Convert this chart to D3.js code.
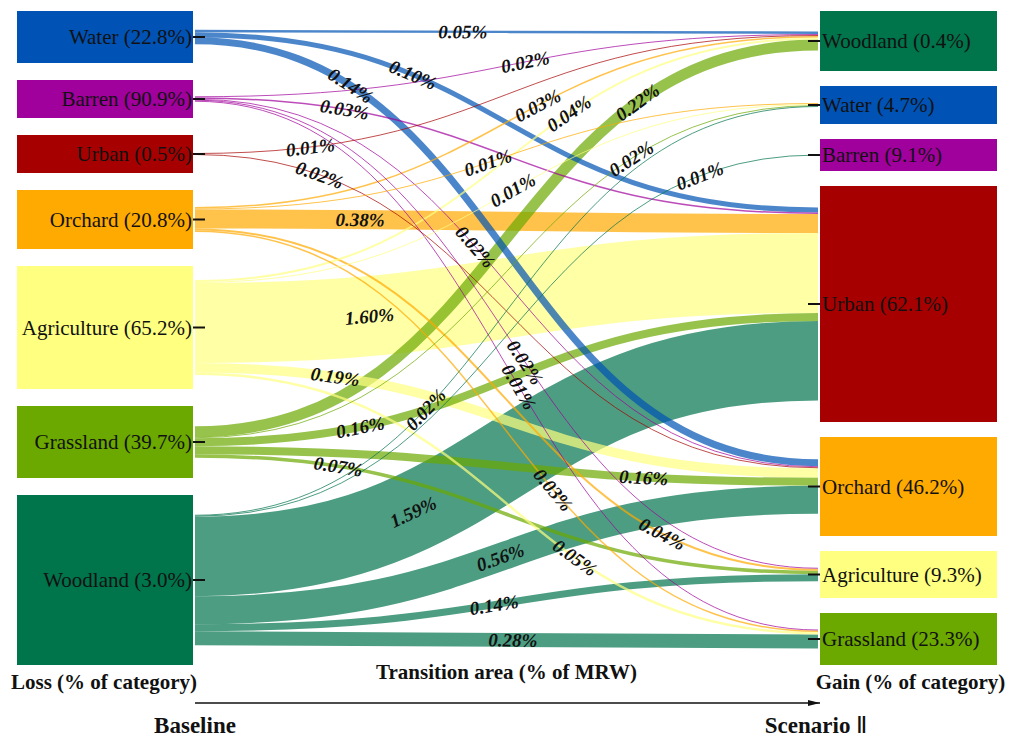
<!DOCTYPE html>
<html>
<head>
<meta charset="utf-8">
<script src="https://cdn.jsdelivr.net/npm/d3@7"></script>
<style>
  body { margin: 0; background: #fff; }
  svg { display: block; }
  text { font-family: "Liberation Serif", "Times New Roman", "Noto Serif", serif; }
</style>
</head>
<body>
<svg id="chart" width="1009" height="738"></svg>
<script>
// ---- data -------------------------------------------------------------
const lossCategories = ["Water", "Barren", "Urban", "Orchard", "Agriculture", "Grassland", "Woodland"];
const lossPercent    = [22.8, 90.9, 0.5, 20.8, 65.2, 39.7, 3.0];

const gainCategories = ["Woodland", "Water", "Barren", "Urban", "Orchard", "Agriculture", "Grassland"];
const gainPercent    = [0.4, 4.7, 9.1, 62.1, 46.2, 9.3, 23.3];

// transitions, area as % of MRW
const linkFrom = ["Water","Water","Water",
                  "Barren","Barren","Barren","Barren","Barren",
                  "Urban","Urban",
                  "Orchard","Orchard","Orchard","Orchard","Orchard",
                  "Agriculture","Agriculture","Agriculture","Agriculture","Agriculture",
                  "Grassland","Grassland","Grassland","Grassland","Grassland",
                  "Woodland","Woodland","Woodland","Woodland","Woodland","Woodland"];
const linkTo   = ["Woodland","Urban","Orchard",
                  "Woodland","Urban","Orchard","Agriculture","Grassland",
                  "Woodland","Orchard",
                  "Woodland","Water","Urban","Agriculture","Grassland",
                  "Woodland","Water","Urban","Orchard","Grassland",
                  "Woodland","Water","Urban","Orchard","Agriculture",
                  "Water","Barren","Urban","Orchard","Agriculture","Grassland"];
const linkArea = [0.05, 0.10, 0.14,
                  0.02, 0.03, 0.02, 0.02, 0.01,
                  0.01, 0.02,
                  0.03, 0.01, 0.38, 0.04, 0.03,
                  0.04, 0.01, 1.60, 0.19, 0.05,
                  0.22, 0.02, 0.16, 0.16, 0.07,
                  0.02, 0.01, 1.59, 0.56, 0.14, 0.28];

// ---- layout & style ---------------------------------------------------
const leftBox  = { x0: 17,  x1: 193 };
const rightBox = { x0: 820, x1: 997 };
const linkX0 = 195, linkX1 = 818;
const columnTop = 11, columnBottom = 665;

// relative box heights of each category block
const lossBoxWeight = [52, 38, 38, 59, 123, 72, 170];
const gainBoxWeight = [60, 38, 32, 236, 99, 47, 52];

// where along each ribbon (share of the horizontal run) its label sits
const labelAlong = [0.43, 0.35, 0.25,
                    0.53, 0.24, 0.45, 0.53, 0.52,
                    0.185, 0.20,
                    0.55, 0.47, 0.265, 0.75, 0.575,
                    0.60, 0.51, 0.28, 0.225, 0.61,
                    0.71, 0.70, 0.265, 0.72, 0.23,
                    0.37, 0.81, 0.35, 0.49, 0.48, 0.51];

const colour = {
  Water: "#0052b4",
  Barren: "#a0009b",
  Urban: "#a60000",
  Orchard: "#ffaa00",
  Agriculture: "#ffff80",
  Grassland: "#6ba800",
  Woodland: "#00744b"
};

const svg = d3.select("#chart");
const width = d3.scaleLinear().domain([0, 1]).range([0, 50]);
const ribbonWidth = v => Math.max(1, width(v));

// stack the boxes of one column
function column(names, weights) {
  const sum = d3.sum(weights);
  const gap = (columnBottom - columnTop - sum) / (names.length - 1);
  const pos = d3.scaleLinear().domain([0, sum + gap * (names.length - 1)]).range([columnTop, columnBottom]);
  let acc = 0;
  return names.map((n, i) => {
    const node = { name: n, y0: pos(acc), y1: pos(acc + weights[i]) };
    node.cy = (node.y0 + node.y1) / 2;
    acc += weights[i] + gap;
    return node;
  });
}
const leftNodes = column(lossCategories, lossBoxWeight);
const rightNodes = column(gainCategories, gainBoxWeight);

const links = linkArea.map((v, i) => ({
  source: linkFrom[i], target: linkTo[i], value: v, w: ribbonWidth(v), along: labelAlong[i]
}));

// ribbon ends: stacked and centred on each block
leftNodes.forEach(n => {
  const out = links.filter(l => l.source === n.name)
    .sort((a, b) => gainCategories.indexOf(a.target) - gainCategories.indexOf(b.target));
  let y = n.cy - d3.sum(out, l => l.w) / 2;
  out.forEach(l => { l.sy = y + l.w / 2; y += l.w; });
});
rightNodes.forEach(n => {
  const inc = links.filter(l => l.target === n.name)
    .sort((a, b) => lossCategories.indexOf(a.source) - lossCategories.indexOf(b.source));
  let y = n.cy - d3.sum(inc, l => l.w) / 2;
  inc.forEach(l => { l.ty = y + l.w / 2; y += l.w; });
});

const linkPath = d3.linkHorizontal().x(d => d[0]).y(d => d[1]);

// ---- ribbons ----------------------------------------------------------
const drawOrder = links.slice().sort((a, b) => b.w - a.w);
svg.append("g")
  .selectAll("path")
  .data(drawOrder)
  .join("path")
  .attr("d", d => linkPath({ source: [linkX0, d.sy], target: [linkX1, d.ty] }))
  .attr("fill", "none")
  .attr("stroke", d => colour[d.source])
  .attr("stroke-opacity", 0.7)
  .attr("stroke-width", d => d.w);

// ---- blocks -----------------------------------------------------------
function blocks(nodes, box, pct, side) {
  const g = svg.append("g");
  g.selectAll("rect").data(nodes).join("rect")
    .attr("x", box.x0).attr("width", box.x1 - box.x0)
    .attr("y", d => d.y0).attr("height", d => d.y1 - d.y0)
    .attr("fill", d => colour[d.name]);
  g.selectAll("line").data(nodes).join("line")
    .attr("x1", side === "left" ? box.x1 : box.x0 - 12)
    .attr("x2", side === "left" ? box.x1 + 12 : box.x0)
    .attr("y1", d => d.cy).attr("y2", d => d.cy)
    .attr("stroke", "#111").attr("stroke-width", 2);
  g.selectAll("text").data(nodes).join("text")
    .attr("x", side === "left" ? box.x1 - 1 : box.x0 + 2)
    .attr("y", d => d.cy)
    .attr("dy", "0.35em")
    .attr("text-anchor", side === "left" ? "end" : "start")
    .attr("font-size", 21)
    .attr("fill", "#111")
    .text((d, i) => `${d.name} (${pct[i].toFixed(1)}%)`);
}
blocks(leftNodes, leftBox, lossPercent, "left");
blocks(rightNodes, rightBox, gainPercent, "right");

// ---- ribbon labels ----------------------------------------------------
function pointAlong(l) {
  const dx = linkX1 - linkX0, dy = l.ty - l.sy;
  const fx = t => 1.5 * t * (1 - t) + t * t * t;
  let lo = 0, hi = 1;
  for (let k = 0; k < 40; k++) { const m = (lo + hi) / 2; if (fx(m) < l.along) lo = m; else hi = m; }
  const t = (lo + hi) / 2;
  const x = linkX0 + dx * fx(t);
  const y = l.sy + dy * (3 * t * t - 2 * t * t * t);
  const ang = Math.atan2(dy * (6 * t - 6 * t * t), dx * (1.5 - 3 * t + 3 * t * t)) * 180 / Math.PI;
  return { x, y, ang };
}
svg.append("g")
  .selectAll("text")
  .data(links)
  .join("text")
  .each(function (d) {
    const p = pointAlong(d);
    d3.select(this).attr("transform", `translate(${p.x},${p.y}) rotate(${p.ang})`);
  })
  .attr("text-anchor", "middle")
  .attr("dy", "0.35em")
  .attr("font-size", 19)
  .attr("font-weight", "bold")
  .attr("font-style", "italic")
  .attr("fill", "#111")
  .text(d => `${d.value.toFixed(2)}%`);

// ---- titles & direction arrow ----------------------------------------
const titles = svg.append("g").attr("font-weight", "bold").attr("fill", "#111").attr("text-anchor", "middle");
titles.append("text").attr("x", (leftBox.x0 + leftBox.x1) / 2 - 1).attr("y", 689).attr("font-size", 21).text("Loss (% of category)");
titles.append("text").attr("x", (linkX0 + linkX1) / 2).attr("y", 679).attr("font-size", 21).text("Transition area (% of MRW)");
titles.append("text").attr("x", (rightBox.x0 + rightBox.x1) / 2 + 2).attr("y", 689).attr("font-size", 21).text("Gain (% of category)");
titles.append("text").attr("x", linkX0).attr("y", 733).attr("font-size", 23).text("Baseline");
const scen = titles.append("text").attr("x", linkX1 - 2).attr("y", 733).attr("font-size", 23);
scen.append("tspan").text("Scenario ");
scen.append("tspan").attr("font-weight", "normal").text("Ⅱ");

svg.append("defs").append("marker")
  .attr("id", "head").attr("viewBox", "0 0 12 6").attr("refX", 12).attr("refY", 3)
  .attr("markerWidth", 12).attr("markerHeight", 6).attr("markerUnits", "userSpaceOnUse")
  .attr("orient", "auto")
  .append("path").attr("d", "M0,0L12,3L0,6Z").attr("fill", "#111");
svg.append("line")
  .attr("x1", linkX0).attr("x2", linkX1 + 2).attr("y1", 703).attr("y2", 703)
  .attr("stroke", "#111").attr("stroke-width", 1.5)
  .attr("marker-end", "url(#head)");
</script>
</body>
</html>
